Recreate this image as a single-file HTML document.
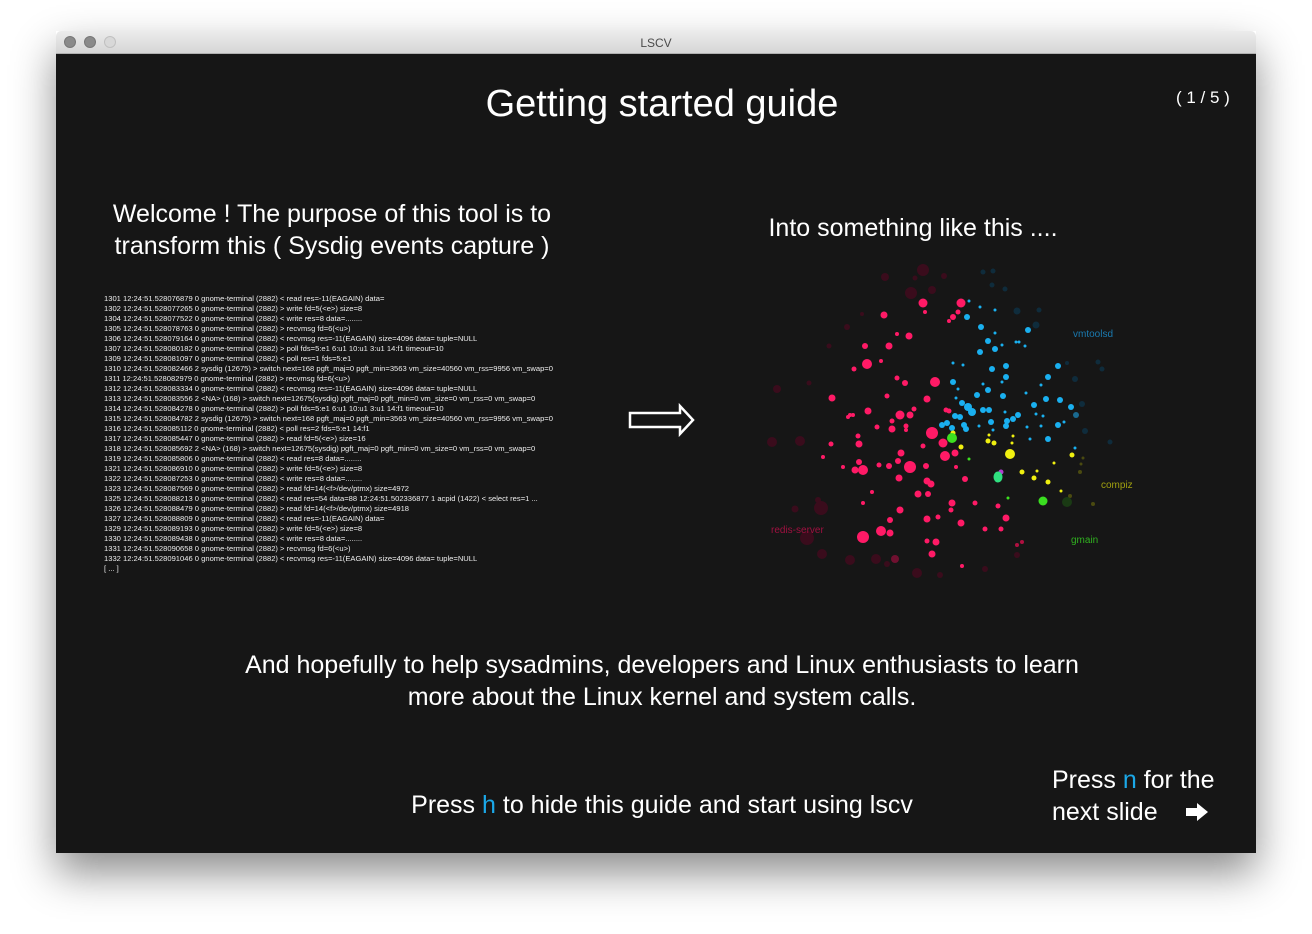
<!DOCTYPE html>
<html><head><meta charset="utf-8"><style>
body{margin:0;width:1312px;height:934px;background:#fff;position:relative;overflow:hidden;font-family:"Liberation Sans",sans-serif}
.win{position:absolute;left:56px;top:31px;width:1200px;height:822px;box-shadow:0 20px 40px rgba(0,0,0,.45);}
.tb{position:absolute;left:0;top:0;width:1200px;height:22px;background:linear-gradient(#ececec,#d6d6d6);border-radius:5px 5px 0 0;border-bottom:1px solid #b0b0b0}
.tb .t{position:absolute;left:0;width:100%;top:5px;text-align:center;font-size:12px;color:#4a4a4a}
.dot{position:absolute;top:5px;width:12px;height:12px;border-radius:50%;background:#8a8a8a;border:1px solid #777;box-sizing:border-box}
.ct{position:absolute;left:0;top:23px;width:1200px;height:799px;background:#161616}
.tx{position:absolute;color:#fff;white-space:nowrap;line-height:1}
.c{text-align:center}
.log{position:absolute;left:104px;top:294px;color:#eee;font-size:7.6px;line-height:10px;white-space:pre}
.b{color:#1ba8e8}
</style></head><body>
<div class="win">
<div class="tb"><div class="dot" style="left:8px"></div><div class="dot" style="left:28px"></div><div class="dot" style="left:48px;background:#d8d8d8;border-color:#c0c0c0"></div><div class="t">LSCV</div></div>
<div class="ct"></div>
</div>
<div class="tx c" style="left:362px;width:600px;top:85px;font-size:38px">Getting started guide</div>
<div class="tx" style="left:1176px;top:89px;font-size:17px">( 1 / 5 )</div>
<div class="tx c" style="left:82px;width:500px;top:198px;font-size:25px;line-height:32px">Welcome ! The purpose of this tool is to<br>transform this ( Sysdig events capture )</div>
<div class="tx c" style="left:713px;width:400px;top:216px;font-size:25px">Into something like this ....</div>
<div class="log">1301 12:24:51.528076879 0 gnome-terminal (2882) &lt; read res=-11(EAGAIN) data=
1302 12:24:51.528077265 0 gnome-terminal (2882) &gt; write fd=5(&lt;e&gt;) size=8
1304 12:24:51.528077522 0 gnome-terminal (2882) &lt; write res=8 data=........
1305 12:24:51.528078763 0 gnome-terminal (2882) &gt; recvmsg fd=6(&lt;u&gt;)
1306 12:24:51.528079164 0 gnome-terminal (2882) &lt; recvmsg res=-11(EAGAIN) size=4096 data= tuple=NULL
1307 12:24:51.528080182 0 gnome-terminal (2882) &gt; poll fds=5:e1 6:u1 10:u1 3:u1 14:f1 timeout=10
1309 12:24:51.528081097 0 gnome-terminal (2882) &lt; poll res=1 fds=5:e1
1310 12:24:51.528082466 2 sysdig (12675) &gt; switch next=168 pgft_maj=0 pgft_min=3563 vm_size=40560 vm_rss=9956 vm_swap=0
1311 12:24:51.528082979 0 gnome-terminal (2882) &gt; recvmsg fd=6(&lt;u&gt;)
1312 12:24:51.528083334 0 gnome-terminal (2882) &lt; recvmsg res=-11(EAGAIN) size=4096 data= tuple=NULL
1313 12:24:51.528083556 2 &lt;NA&gt; (168) &gt; switch next=12675(sysdig) pgft_maj=0 pgft_min=0 vm_size=0 vm_rss=0 vm_swap=0
1314 12:24:51.528084278 0 gnome-terminal (2882) &gt; poll fds=5:e1 6:u1 10:u1 3:u1 14:f1 timeout=10
1315 12:24:51.528084782 2 sysdig (12675) &gt; switch next=168 pgft_maj=0 pgft_min=3563 vm_size=40560 vm_rss=9956 vm_swap=0
1316 12:24:51.528085112 0 gnome-terminal (2882) &lt; poll res=2 fds=5:e1 14:f1
1317 12:24:51.528085447 0 gnome-terminal (2882) &gt; read fd=5(&lt;e&gt;) size=16
1318 12:24:51.528085692 2 &lt;NA&gt; (168) &gt; switch next=12675(sysdig) pgft_maj=0 pgft_min=0 vm_size=0 vm_rss=0 vm_swap=0
1319 12:24:51.528085806 0 gnome-terminal (2882) &lt; read res=8 data=........
1321 12:24:51.528086910 0 gnome-terminal (2882) &gt; write fd=5(&lt;e&gt;) size=8
1322 12:24:51.528087253 0 gnome-terminal (2882) &lt; write res=8 data=........
1323 12:24:51.528087569 0 gnome-terminal (2882) &gt; read fd=14(&lt;f&gt;/dev/ptmx) size=4972
1325 12:24:51.528088213 0 gnome-terminal (2882) &lt; read res=54 data=88 12:24:51.502336877 1 acpid (1422) &lt; select res=1 ...
1326 12:24:51.528088479 0 gnome-terminal (2882) &gt; read fd=14(&lt;f&gt;/dev/ptmx) size=4918
1327 12:24:51.528088809 0 gnome-terminal (2882) &lt; read res=-11(EAGAIN) data=
1329 12:24:51.528089193 0 gnome-terminal (2882) &gt; write fd=5(&lt;e&gt;) size=8
1330 12:24:51.528089438 0 gnome-terminal (2882) &lt; write res=8 data=........
1331 12:24:51.528090658 0 gnome-terminal (2882) &gt; recvmsg fd=6(&lt;u&gt;)
1332 12:24:51.528091046 0 gnome-terminal (2882) &lt; recvmsg res=-11(EAGAIN) size=4096 data= tuple=NULL
[ ... ]</div>
<svg style="position:absolute;left:0;top:0" width="1312" height="934">
<path d="M630 413 H680 V406 L693 420 L680 434 V427 H630 Z" fill="none" stroke="#fff" stroke-width="2.5"/>
<path d="M1186 808 H1197 V803 L1208 812 L1197 821 V816 H1186 Z" fill="#fff"/>
<g fill="#3a0c1c">
<circle cx="885" cy="277" r="4"/><circle cx="911" cy="293" r="6"/><circle cx="932" cy="290" r="4"/><circle cx="923" cy="270" r="6"/><circle cx="944" cy="276" r="3"/><circle cx="915" cy="278" r="2.5"/><circle cx="847" cy="327" r="3"/><circle cx="829" cy="346" r="2.5"/><circle cx="862" cy="314" r="2"/><circle cx="777" cy="389" r="4"/><circle cx="809" cy="383" r="2.5"/><circle cx="772" cy="442" r="5"/><circle cx="800" cy="441" r="5"/><circle cx="821" cy="508" r="7"/><circle cx="795" cy="509" r="3.5"/><circle cx="807" cy="538" r="7"/><circle cx="822" cy="554" r="5"/><circle cx="850" cy="560" r="5"/><circle cx="876" cy="559" r="5"/><circle cx="895" cy="559" r="4" fill="#701030"/><circle cx="917" cy="573" r="5"/><circle cx="940" cy="575" r="3"/><circle cx="887" cy="564" r="3"/><circle cx="1017" cy="555" r="3"/><circle cx="985" cy="569" r="3"/><circle cx="818" cy="500" r="3"/></g>
<g fill="#ff1a66">
<circle cx="923" cy="303" r="4.5"/><circle cx="961" cy="303" r="4.5"/><circle cx="884" cy="315" r="3.5"/><circle cx="909" cy="336" r="3.5"/><circle cx="889" cy="346" r="3.5"/><circle cx="865" cy="346" r="3"/><circle cx="867" cy="364" r="5"/><circle cx="854" cy="369" r="2.5"/><circle cx="935" cy="382" r="5"/><circle cx="897" cy="378" r="2.5"/><circle cx="905" cy="383" r="3"/><circle cx="832" cy="398" r="3.5"/><circle cx="887" cy="396" r="2.5"/><circle cx="927" cy="399" r="3.5"/><circle cx="868" cy="411" r="3.5"/><circle cx="900" cy="415" r="4.5"/><circle cx="910" cy="415" r="3.5"/><circle cx="850" cy="415" r="2"/><circle cx="892" cy="429" r="3.5"/><circle cx="906" cy="426" r="2.5"/><circle cx="877" cy="427" r="2.5"/><circle cx="932" cy="433" r="6"/><circle cx="943" cy="443" r="4.5"/><circle cx="945" cy="456" r="5"/><circle cx="858" cy="436" r="2.5"/><circle cx="859" cy="444" r="3.5"/><circle cx="831" cy="444" r="2.5"/><circle cx="901" cy="453" r="3.5"/><circle cx="923" cy="446" r="2.5"/><circle cx="955" cy="453" r="3.5"/><circle cx="823" cy="457" r="2"/><circle cx="910" cy="467" r="6"/><circle cx="863" cy="470" r="5"/><circle cx="855" cy="470" r="3.5"/><circle cx="859" cy="462" r="3"/><circle cx="889" cy="466" r="3"/><circle cx="898" cy="461" r="3"/><circle cx="879" cy="465" r="2.5"/><circle cx="926" cy="466" r="3"/><circle cx="843" cy="467" r="2"/><circle cx="899" cy="478" r="3.5"/><circle cx="927" cy="481" r="3.5"/><circle cx="931" cy="484" r="3.5"/><circle cx="965" cy="479" r="3"/><circle cx="956" cy="467" r="2"/><circle cx="918" cy="494" r="3.5"/><circle cx="928" cy="494" r="3"/><circle cx="872" cy="492" r="2"/><circle cx="863" cy="503" r="2"/><circle cx="900" cy="510" r="3.5"/><circle cx="952" cy="503" r="3.5"/><circle cx="951" cy="510" r="2.5"/><circle cx="975" cy="503" r="2.5"/><circle cx="998" cy="506" r="2.5"/><circle cx="1006" cy="518" r="3.5"/><circle cx="927" cy="519" r="3.5"/><circle cx="938" cy="517" r="2.5"/><circle cx="890" cy="520" r="3"/><circle cx="961" cy="523" r="3.5"/><circle cx="863" cy="537" r="6"/><circle cx="881" cy="531" r="5"/><circle cx="890" cy="533" r="3.5"/><circle cx="985" cy="529" r="2.5"/><circle cx="1001" cy="529" r="2.5"/><circle cx="927" cy="541" r="2.5"/><circle cx="936" cy="542" r="3.5"/><circle cx="932" cy="554" r="3.5"/><circle cx="962" cy="566" r="2"/><circle cx="953" cy="317" r="3"/><circle cx="958" cy="312" r="2.5"/><circle cx="949" cy="321" r="2"/><circle cx="925" cy="312" r="2"/><circle cx="897" cy="334" r="2"/><circle cx="881" cy="361" r="2"/><circle cx="946" cy="410" r="2.5"/><circle cx="949" cy="411" r="2.5"/><circle cx="914" cy="409" r="2.5"/><circle cx="892" cy="421" r="2.5"/><circle cx="906" cy="430" r="2"/><circle cx="848" cy="417" r="2"/><circle cx="853" cy="415" r="2"/><circle cx="1017" cy="545" r="2" fill="#b01040"/><circle cx="1022" cy="542" r="2" fill="#b01040"/></g>
<g fill="#0f2c3c"><circle cx="983" cy="272" r="2.5"/><circle cx="993" cy="271" r="2.5"/><circle cx="992" cy="285" r="2.5"/><circle cx="1005" cy="289" r="2.5"/><circle cx="1017" cy="311" r="3.5"/><circle cx="1039" cy="310" r="2.5"/><circle cx="1036" cy="325" r="3.5"/><circle cx="1067" cy="363" r="2"/><circle cx="1098" cy="362" r="2.5"/><circle cx="1102" cy="369" r="2.5"/><circle cx="1075" cy="379" r="3"/><circle cx="1082" cy="404" r="3"/><circle cx="1076" cy="415" r="3" fill="#1a6a90"/><circle cx="1085" cy="431" r="3"/><circle cx="1110" cy="442" r="2.5"/></g>
<g fill="#1ab0f0">
<circle cx="967" cy="317" r="3"/><circle cx="981" cy="327" r="3"/><circle cx="995" cy="333" r="1.5"/><circle cx="988" cy="341" r="3"/><circle cx="995" cy="349" r="3"/><circle cx="980" cy="352" r="3"/><circle cx="1002" cy="345" r="1.5"/><circle cx="1016" cy="342" r="1.5"/><circle cx="1019" cy="342" r="1.5"/><circle cx="1025" cy="346" r="1.5"/><circle cx="1028" cy="330" r="3"/><circle cx="980" cy="307" r="1.5"/><circle cx="995" cy="310" r="1.5"/><circle cx="969" cy="301" r="1.5"/><circle cx="953" cy="363" r="1.5"/><circle cx="963" cy="365" r="1.5"/><circle cx="992" cy="369" r="3"/><circle cx="1006" cy="366" r="3"/><circle cx="1006" cy="377" r="3"/><circle cx="953" cy="382" r="3"/><circle cx="983" cy="384" r="1.5"/><circle cx="1002" cy="382" r="1.5"/><circle cx="958" cy="389" r="1.5"/><circle cx="988" cy="390" r="3"/><circle cx="977" cy="395" r="3"/><circle cx="1003" cy="396" r="3"/><circle cx="956" cy="398" r="1.5"/><circle cx="962" cy="403" r="3"/><circle cx="968" cy="407" r="4"/><circle cx="972" cy="412" r="4"/><circle cx="983" cy="410" r="3"/><circle cx="989" cy="410" r="3"/><circle cx="955" cy="416" r="3"/><circle cx="960" cy="417" r="3"/><circle cx="947" cy="423" r="3"/><circle cx="942" cy="425" r="3"/><circle cx="964" cy="425" r="3"/><circle cx="966" cy="429" r="3"/><circle cx="952" cy="428" r="3"/><circle cx="979" cy="426" r="1.5"/><circle cx="991" cy="422" r="3"/><circle cx="993" cy="430" r="1.5"/><circle cx="1006" cy="426" r="3"/><circle cx="1013" cy="419" r="3"/><circle cx="1018" cy="415" r="3"/><circle cx="1007" cy="421" r="3"/><circle cx="1005" cy="412" r="1.5"/><circle cx="1048" cy="377" r="3"/><circle cx="1058" cy="366" r="3"/><circle cx="1041" cy="385" r="1.5"/><circle cx="1026" cy="393" r="1.5"/><circle cx="1034" cy="405" r="3"/><circle cx="1046" cy="399" r="3"/><circle cx="1060" cy="400" r="3"/><circle cx="1071" cy="407" r="3"/><circle cx="1036" cy="414" r="1.5"/><circle cx="1043" cy="416" r="1.5"/><circle cx="1058" cy="425" r="3"/><circle cx="1064" cy="422" r="1.5"/><circle cx="1027" cy="427" r="1.5"/><circle cx="1041" cy="426" r="1.5"/><circle cx="1030" cy="439" r="1.5"/><circle cx="1048" cy="439" r="3"/><circle cx="1075" cy="448" r="1.5"/></g>
<g fill="#f0f010">
<circle cx="953" cy="433" r="2.5"/><circle cx="988" cy="441" r="2.5"/><circle cx="994" cy="443" r="2.5"/><circle cx="989" cy="435" r="1.5"/><circle cx="1013" cy="436" r="1.5"/><circle cx="1012" cy="443" r="1.5"/><circle cx="961" cy="447" r="2.5"/><circle cx="1010" cy="454" r="5"/><circle cx="1022" cy="472" r="2.5"/><circle cx="1034" cy="478" r="2.5"/><circle cx="1037" cy="471" r="1.5"/><circle cx="1048" cy="482" r="2.5"/><circle cx="1054" cy="463" r="1.5"/><circle cx="1072" cy="455" r="2.5"/><circle cx="1061" cy="491" r="1.5"/></g>
<g fill="#4a4a10"><circle cx="1080" cy="472" r="2"/><circle cx="1081" cy="464" r="1.5"/><circle cx="1083" cy="458" r="1.5"/><circle cx="1093" cy="504" r="2"/><circle cx="1070" cy="496" r="2"/></g>
<circle cx="952" cy="438" r="5" fill="#3de020"/><circle cx="1001" cy="472" r="2.5" fill="#b040d0"/><ellipse cx="998" cy="477" rx="4.5" ry="5.5" fill="#30e080"/><circle cx="1043" cy="501" r="4.5" fill="#3ade20"/><circle cx="969" cy="459" r="1.5" fill="#3de020"/><circle cx="1008" cy="498" r="1.5" fill="#3de020"/><circle cx="1067" cy="502" r="5" fill="#1a3a14"/>
<text x="1073" y="337" font-family="Liberation Sans" font-size="10" fill="#1a7ab0">vmtoolsd</text>
<text x="1101" y="488" font-family="Liberation Sans" font-size="10" fill="#a0a010">compiz</text>
<text x="1071" y="543" font-family="Liberation Sans" font-size="10" fill="#30b020">gmain</text>
<text x="771" y="533" font-family="Liberation Sans" font-size="10" fill="#a01040">redis-server</text>
</svg>
<div class="tx c" style="left:162px;width:1000px;top:649px;font-size:25px;line-height:32px">And hopefully to help sysadmins, developers and Linux enthusiasts to learn<br>more about the Linux kernel and system calls.</div>
<div class="tx c" style="left:362px;width:600px;top:793px;font-size:25px">Press <span class="b">h</span> to hide this guide and start using lscv</div>
<div class="tx" style="left:1052px;top:764px;font-size:25px;line-height:32px">Press <span class="b">n</span> for the<br>next slide</div>
</body></html>
